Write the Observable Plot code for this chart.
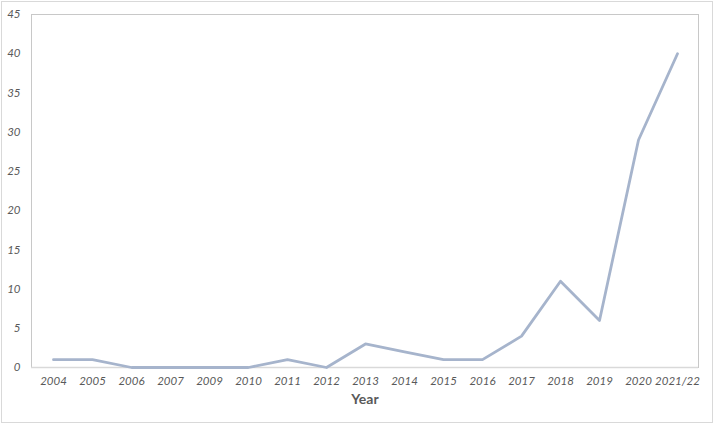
<!DOCTYPE html>
<html>
<head>
<meta charset="utf-8">
<script src="https://cdn.jsdelivr.net/npm/d3@7"></script>
<script src="https://cdn.jsdelivr.net/npm/@observablehq/plot@0.6"></script>
<style>
  html, body { margin: 0; padding: 0; background: #fff; }
  #wrap { position: relative; width: 714px; height: 424px; }
  #border { position: absolute; left: 1px; top: 1px; width: 710px; height: 420px; border: 1px solid #d9d9d9; pointer-events: none; }
</style>
</head>
<body>
<div id="wrap"><div id="border"></div></div>
<script>
const years = ["2004","2005","2006","2007","2009","2010","2011","2012","2013","2014","2015","2016","2017","2018","2019","2020","2021/22"];
const counts = [1,1,0,0,0,0,1,0,3,2,1,1,4,11,6,29,40];
const yTicks = [0,5,10,15,20,25,30,35,40,45];

const data = years.map((y, i) => ({year: y, value: counts[i]}));

const chart = Plot.plot({
  width: 714,
  height: 424,
  marginLeft: 31,
  marginRight: 16,
  marginTop: 14,
  marginBottom: 57,
  style: {fontFamily: "Lato, 'Open Sans', sans-serif", fontSize: "11px", color: "#595959", background: "#fff"},
  x: {type: "point", domain: years, padding: 0.5, label: null},
  y: {domain: [0, 45], label: null},
  marks: [
    Plot.frame({stroke: "#c8c8c8"}),
    Plot.ruleY([0], {stroke: "#d9d9d9", strokeWidth: 1.5}),
    Plot.axisY({ticks: yTicks, tickSize: 0, tickPadding: 11, fontStyle: "italic", fill: "#595959", fontSize: 11.5}),
    Plot.axisX({tickSize: 0, tickPadding: 9, fontStyle: "italic", fill: "#595959", fontSize: 11.5, label: null}),
    Plot.text(["Year"], {frameAnchor: "bottom", dy: 36, fontWeight: "bold", fontSize: 14, fill: "#595959"}),
    Plot.line(data, {x: "year", y: "value", stroke: "#a6b4cc", strokeWidth: 2.8, strokeLinejoin: "round"})
  ]
});
document.getElementById("wrap").prepend(chart);
</script>
</body>
</html>
